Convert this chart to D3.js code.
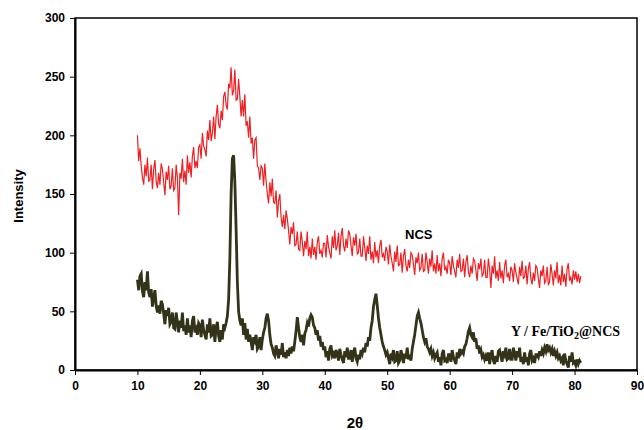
<!DOCTYPE html>
<html>
<head>
<meta charset="utf-8">
<script src="https://cdn.jsdelivr.net/npm/d3@7"></script>
<style>
  body { margin: 0; background: #fff; }
  .axis text { font-family: "Liberation Sans", Arial, sans-serif; font-weight: bold; font-size: 12px; fill: #000; }
  .axis path, .axis line { stroke: #000; }
</style>
</head>
<body>
<script>
    // 2-theta sampling: 10.0 .. 81.0 in 0.2 steps
    const thetaStart = 10, thetaStep = 0.2;

    // NCS intensities
    const ncsValues = [
        200, 178, 189, 174, 164, 158, 175, 165, 181, 161,
        162, 175, 154, 171, 179, 161, 155, 168, 158, 176,
        171, 160, 149, 169, 162, 174, 154, 157, 172, 153,
        155, 175, 164, 132, 168, 163, 180, 160, 170, 158,
        183, 168, 177, 164, 182, 190, 172, 178, 172, 190,
        192, 180, 202, 191, 188, 182, 204, 196, 213, 195,
        202, 216, 197, 216, 226, 210, 206, 221, 213, 233,
        237, 226, 222, 244, 240, 258, 234, 238, 256, 230,
        231, 248, 233, 216, 230, 216, 235, 208, 212, 198,
        216, 193, 198, 180, 196, 198, 174, 172, 162, 174,
        172, 157, 176, 161, 150, 142, 160, 148, 163, 143,
        142, 153, 130, 144, 150, 130, 122, 132, 120, 136,
        129, 119, 107, 122, 116, 126, 106, 107, 118, 103,
        102, 118, 109, 97, 110, 103, 118, 97, 105, 95,
        112, 98, 105, 94, 109, 114, 99, 102, 96, 108,
        108, 96, 115, 105, 100, 95, 114, 104, 119, 102,
        106, 117, 98, 114, 121, 106, 101, 112, 104, 119,
        116, 106, 97, 113, 106, 116, 99, 100, 112, 97,
        97, 114, 104, 93, 106, 99, 114, 94, 101, 91,
        109, 96, 102, 91, 106, 111, 96, 99, 93, 105,
        101, 90, 107, 97, 91, 84, 101, 92, 106, 89,
        90, 100, 83, 97, 103, 89, 84, 94, 87, 100,
        98, 90, 81, 96, 91, 100, 85, 87, 99, 84,
        85, 100, 92, 82, 95, 88, 102, 84, 91, 82,
        98, 84, 91, 80, 95, 100, 85, 88, 82, 94,
        91, 81, 97, 89, 84, 79, 94, 87, 99, 84,
        85, 95, 79, 92, 98, 84, 79, 89, 82, 95,
        93, 85, 76, 91, 86, 95, 80, 82, 94, 79,
        79, 95, 86, 70, 89, 82, 97, 78, 85, 76,
        92, 78, 85, 74, 89, 94, 79, 82, 76, 88,
        85, 75, 91, 83, 78, 73, 88, 80, 93, 78,
        79, 89, 73, 86, 92, 78, 73, 83, 76, 89,
        87, 78, 70, 85, 80, 89, 74, 76, 88, 73,
        75, 90, 82, 72, 85, 78, 92, 74, 81, 72,
        89, 75, 82, 71, 86, 91, 76, 79, 73, 85,
        77, 84, 75, 82, 74, 80
    ];

    // Y / Fe/TiO2@NCS intensities
    const yfeValues = [
        77, 68, 80, 82, 67, 62, 75, 68, 84, 66,
        62, 69, 54, 62, 68, 55, 49, 55, 48, 59,
        56, 48, 39, 51, 46, 53, 39, 41, 49, 36,
        35, 49, 41, 32, 42, 36, 49, 33, 38, 30,
        44, 32, 38, 28, 42, 46, 32, 35, 30, 40,
        38, 28, 43, 34, 30, 26, 39, 32, 44, 29,
        30, 39, 24, 36, 41, 29, 24, 34, 26, 39,
        36, 40, 46, 60, 95, 150, 180, 183, 160, 120,
        75, 50, 42, 38, 44, 30, 40, 26, 35, 24,
        30, 24, 17, 28, 25, 30, 18, 20, 28, 17,
        26, 32, 36, 44, 48, 42, 30, 22, 19, 14,
        12, 21, 16, 10, 18, 13, 23, 11, 15, 10,
        17, 12, 19, 14, 20, 16, 24, 33, 45, 36,
        28, 24, 30, 21, 31, 34, 40, 37, 44, 47,
        45, 38, 36, 30, 34, 25, 29, 20, 24, 17,
        20, 11, 16, 8, 18, 21, 12, 14, 10, 17,
        14, 8, 18, 13, 9, 6, 16, 11, 19, 10,
        10, 17, 7, 15, 19, 10, 7, 13, 9, 17,
        14, 19, 15, 23, 20, 28, 25, 36, 42, 54,
        60, 65, 55, 44, 36, 30, 24, 20, 17, 13,
        15, 10, 5, 14, 11, 17, 7, 8, 16, 6,
        8, 17, 12, 6, 14, 10, 19, 9, 13, 8,
        18, 24, 30, 38, 46, 49, 44, 40, 34, 28,
        24, 27, 20, 18, 15, 18, 12, 15, 10, 13,
        15, 7, 11, 4, 14, 17, 8, 9, 6, 13,
        13, 7, 17, 11, 8, 5, 15, 10, 18, 14,
        16, 14, 20, 22, 27, 33, 36, 30, 28, 32,
        24, 27, 18, 21, 14, 17, 11, 13, 9, 12,
        8, 15, 5, 13, 17, 8, 5, 12, 7, 16,
        17, 12, 7, 16, 13, 19, 9, 10, 18, 9,
        9, 19, 14, 8, 16, 11, 19, 7, 11, 5,
        15, 7, 11, 4, 14, 17, 8, 10, 6, 13,
        13, 11, 16, 12, 17, 14, 19, 16, 22, 17,
        19, 15, 18, 12, 16, 12, 15, 10, 12, 8,
        10, 4, 14, 8, 5, 2, 12, 7, 15, 6,
        7, 4, 9, 5, 8, 6
    ];

    const xTicks = [0, 10, 20, 30, 40, 50, 60, 70, 80, 90];
    const yTicks = [0, 50, 100, 150, 200, 250, 300];

    const width = 644, height = 430;
    const plot = { left: 75, right: 637, top: 18, bottom: 370 };

    const svg = d3.select("body").append("svg")
        .attr("width", width)
        .attr("height", height);

    const x = d3.scaleLinear().domain([0, 90]).range([plot.left, plot.right]);
    const y = d3.scaleLinear().domain([0, 300]).range([plot.bottom, plot.top]);

    const toPoints = vals => vals.map((v, i) => ({ t: thetaStart + i * thetaStep, v: v }));

    const line = d3.line()
        .x(d => x(d.t))
        .y(d => y(d.v));

    // Frame (top / right)
    svg.append("rect")
        .attr("x", plot.left)
        .attr("y", plot.top)
        .attr("width", plot.right - plot.left)
        .attr("height", plot.bottom - plot.top)
        .attr("fill", "none")
        .attr("stroke", "#000")
        .attr("stroke-width", 1.5);

    // Series
    svg.append("path")
        .datum(toPoints(ncsValues))
        .attr("d", line)
        .attr("fill", "none")
        .attr("stroke", "#ed2024")
        .attr("stroke-width", 1.2);

    svg.append("path")
        .datum(toPoints(yfeValues))
        .attr("d", line)
        .attr("fill", "none")
        .attr("stroke", "#33331a")
        .attr("stroke-width", 2.8);

    // Axes
    svg.append("g")
        .attr("class", "axis")
        .attr("transform", `translate(0,${plot.bottom})`)
        .call(d3.axisBottom(x).tickValues(xTicks).tickSize(5).tickPadding(6).tickSizeOuter(0))
        .call(g => g.select(".domain").attr("stroke-width", 2));

    svg.append("g")
        .attr("class", "axis")
        .attr("transform", `translate(${plot.left},0)`)
        .call(d3.axisLeft(y).tickValues(yTicks).tickSize(5).tickPadding(5).tickSizeOuter(0))
        .call(g => g.select(".domain").attr("stroke-width", 2));

    // Axis titles
    svg.append("text")
        .attr("transform", "translate(23,196) rotate(-90)")
        .attr("text-anchor", "middle")
        .attr("font-family", "Liberation Sans, Arial, sans-serif")
        .attr("font-weight", "bold")
        .attr("font-size", "13px")
        .text("Intensity");

    svg.append("text")
        .attr("x", 355)
        .attr("y", 428)
        .attr("text-anchor", "middle")
        .attr("font-family", "Liberation Sans, Arial, sans-serif")
        .attr("font-weight", "bold")
        .attr("font-size", "15px")
        .text("2θ");

    // Series labels
    svg.append("text")
        .attr("x", 405)
        .attr("y", 239)
        .attr("font-family", "Liberation Sans, Arial, sans-serif")
        .attr("font-weight", "bold")
        .attr("font-size", "13px")
        .text("NCS");

    const lbl = svg.append("text")
        .attr("x", 511)
        .attr("y", 336)
        .attr("font-family", "Liberation Serif, Times New Roman, serif")
        .attr("font-weight", "bold")
        .attr("font-size", "14px");
    lbl.append("tspan").text("Y / Fe/TiO");
    lbl.append("tspan").attr("font-size", "10px").attr("dy", 3).text("2");
    lbl.append("tspan").attr("dy", -3).text("@NCS");
</script>
</body>
</html>
